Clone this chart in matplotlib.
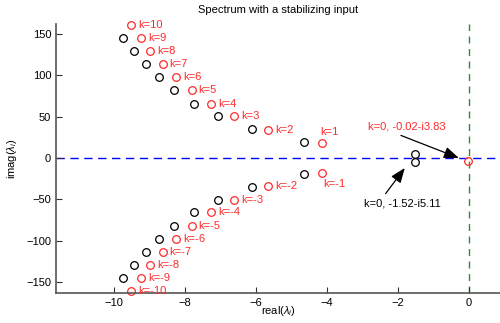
import numpy as np
import matplotlib
matplotlib.use("Agg")
import matplotlib.pyplot as plt

plt.rcParams['font.family'] = ['Liberation Sans', 'DejaVu Sans']
plt.rcParams['mathtext.fontset'] = 'custom'
plt.rcParams['mathtext.rm'] = 'Liberation Sans'
plt.rcParams['mathtext.it'] = 'Liberation Sans:italic'

# open-loop spectrum (upper half, conjugates mirrored below)
black_re = [-1.52, -4.64, -6.11, -7.07, -7.74, -8.29, -8.73, -9.09, -9.42, -9.72]
black_im = [5.11, 19.3, 35.0, 50.8, 65.7, 81.8, 97.6, 113.7, 129.4, 145.5]

# stabilized spectrum, k = 1..10 (k = -1..-10 are conjugates)
k_vals = [1, 2, 3, 4, 5, 6, 7, 8, 9, 10]
red_re = [-4.13, -5.65, -6.60, -7.26, -7.80, -8.24, -8.62, -8.96, -9.23, -9.50]
red_im = [18.5, 33.9, 50.4, 65.7, 81.8, 97.6, 113.7, 129.4, 145.5, 160.4]

# k = 0 eigenvalue of the stabilized system
k0_re, k0_im = -0.02, -3.83

red = '#ff2a2a'
fs = 8

fig = plt.figure(figsize=(5, 3.23), dpi=100)
ax = fig.add_axes([0.112, 0.093, 0.888, 0.833])

ax.axhline(0, color='#0000ff', ls=(0, (6, 4)), lw=1, zorder=1)
ax.axvline(0, color='#2e8b2e', ls=(0, (5, 4)), lw=1, zorder=1)

bre = np.array(black_re)
bim = np.array(black_im)
ax.plot(np.r_[bre, bre], np.r_[bim, -bim], 'o', mfc='none', mec='black',
        ms=5.5, mew=0.9, clip_on=False)

rre = np.array(red_re)
rim = np.array(red_im)
ax.plot(np.r_[rre, rre, k0_re], np.r_[rim, -rim, k0_im], 'o', mfc='none', mec=red,
        ms=5.5, mew=0.9, clip_on=False)

for k, x, y in zip(k_vals, red_re, red_im):
    if k == 1:
        ax.annotate('k=1', (x, y), xytext=(-1, 8), textcoords='offset points',
                    color=red, fontsize=fs, va='center', ha='left')
        ax.annotate('k=-1', (x, -y), xytext=(1, -8), textcoords='offset points',
                    color=red, fontsize=fs, va='center', ha='left')
    else:
        ax.annotate('k=%d' % k, (x, y), xytext=(5, 0), textcoords='offset points',
                    color=red, fontsize=fs, va='center', ha='left')
        ax.annotate('k=%d' % -k, (x, -y), xytext=(5, 0), textcoords='offset points',
                    color=red, fontsize=fs, va='center', ha='left')

arrow = dict(arrowstyle='-|>,head_length=0.9,head_width=0.35', color='black', lw=0.9,
             mutation_scale=10, shrinkA=0, shrinkB=3)

ax.text(-2.84, 37.8, 'k=0, -0.02-i3.83', color=red, fontsize=fs, ha='left', va='center')
ax.annotate('', xy=(k0_re - 0.15, k0_im + 2), xytext=(-1.91, 27.3), arrowprops=arrow)

ax.text(-2.95, -55, 'k=0, -1.52-i5.11', color='black', fontsize=fs, ha='left', va='center')
ax.annotate('', xy=(-1.73, -8), xytext=(-2.34, -43), arrowprops=arrow)

ax.set_xlim(-11.62, 0.88)
ax.set_ylim(-163, 162)
ax.set_xticks([-10, -8, -6, -4, -2, 0])
ax.set_yticks([-150, -100, -50, 0, 50, 100, 150])
ax.tick_params(direction='in', labelsize=fs, length=4, color='#333333', width=0.8)

for s in ['top', 'right']:
    ax.spines[s].set_visible(False)
for s in ['left', 'bottom']:
    ax.spines[s].set_color('#555555')
    ax.spines[s].set_linewidth(1.2)

ax.set_title('Spectrum with a stabilizing input', fontsize=fs, pad=8)
ax.set_xlabel(r'real($\lambda_i$)', fontsize=fs)
ax.xaxis.set_label_coords(0.5, -0.04)
ax.set_ylabel(r'imag($\lambda_i$)', fontsize=fs, labelpad=5)

fig.savefig('out.png', dpi=100)
